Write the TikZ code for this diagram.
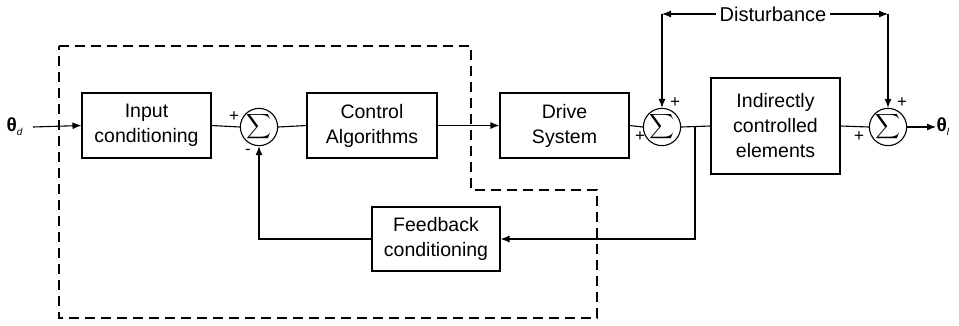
\documentclass[tikz,border=0pt]{standalone}
\usepackage{amsmath}
\usepackage{fontspec}
\setmainfont{Liberation Sans}
\usetikzlibrary{arrows.meta}
\begin{document}
\begin{tikzpicture}[x=1pt,y=-1pt,
  line width=1.1pt,
  blk/.style={draw,rectangle,minimum width=#1,inner sep=0pt,align=center,font=\fontsize{19.5}{25}\selectfont},
  blk/.default=129pt,
  sumnode/.style={draw,circle,minimum size=35pt,inner sep=0pt},
  lbl/.style={font=\fontsize{17}{18}\selectfont,inner sep=0pt},
  arr/.style={-{Latex[length=9pt,width=7pt]}},
  dashbox/.style={dash pattern=on 10pt off 6pt,line width=1.1pt}
]
\useasboundingbox (0,0) rectangle (959,325);
\newcommand{\sumsym}{\raisebox{-1pt}{\fontsize{18}{18}\selectfont$\displaystyle\sum$}}
\newcommand{\thsym}[1]{{\fontsize{19}{19}\selectfont\bfseries θ}\raisebox{-4pt}{\fontsize{10}{10}\selectfont\itshape #1}}

% dashed region
\draw[dashbox] (59,46) -- (471,46) -- (471,190) -- (597,190) -- (597,318) -- (59,318) -- cycle;

% blocks
\node[blk,minimum height=65pt] (in) at (146.5,125.5) {Input\\conditioning};
\node[sumnode] (s1) at (259,127) {\sumsym};
\node[blk=130pt,minimum height=65pt] (ctrl) at (372,125.5) {Control\\Algorithms};
\node[blk,minimum height=65pt] (drv) at (564.5,125.5) {Drive\\System};
\node[sumnode,minimum size=36pt] (s2) at (662,127) {\sumsym};
\node[blk,minimum height=96pt] (ind) at (775.5,126) {Indirectly\\controlled\\elements};
\node[sumnode,minimum size=36pt] (s3) at (888,127) {\sumsym};
\node[blk=128pt,minimum height=64pt] (fb) at (436,239) {Feedback\\conditioning};

% theta labels
\node[inner sep=0pt,anchor=west] (thd) at (6,127) {\thsym{d}};
\node[inner sep=0pt,anchor=west] (thl) at (936,127) {\thsym{l}};
\coordinate (thdend) at (33,127);

% disturbance
\node[font=\fontsize{20}{22}\selectfont,inner sep=3pt] (dist) at (773,14) {Disturbance};
\coordinate (c1) at (662,14);
\coordinate (c2) at (888,14);

% main path
\draw[arr] (thdend) -- (in.west);
\draw (in.east) -- (s1.west);
\draw (s1.east) -- (ctrl.west);
\draw[arr] (ctrl.east) -- (drv.west);
\draw (drv.east) -- (s2.west);
\draw (s2.east) -- (ind.west);
\draw (ind.east) -- (s3.west);
\draw[arr] (s3.east) -- (thl.west);

% feedback
\coordinate (j) at (695,127);
\coordinate (j2) at (695,239);
\coordinate (f1) at (259,239);
\draw[arr] (j) -- (j2) -- (fb.east);
\draw[arr] (fb.west) -- (f1) -- (s1.south);

% disturbance arrows
\draw[arr] (dist.west) -- (c1);
\draw[arr] (c1) -- (s2.north);
\draw[arr] (dist.east) -- (c2);
\draw[arr] (c2) -- (s3.north);

% signs
\node[lbl] (p1) at (234,117) {+};
\node[lbl] (m1) at (248,152) {-};
\node[lbl] (p2a) at (675,103) {+};
\node[lbl] (p2b) at (640,137) {+};
\node[lbl] (p3a) at (902,103) {+};
\node[lbl] (p3b) at (859,137) {+};
\end{tikzpicture}
\end{document}
